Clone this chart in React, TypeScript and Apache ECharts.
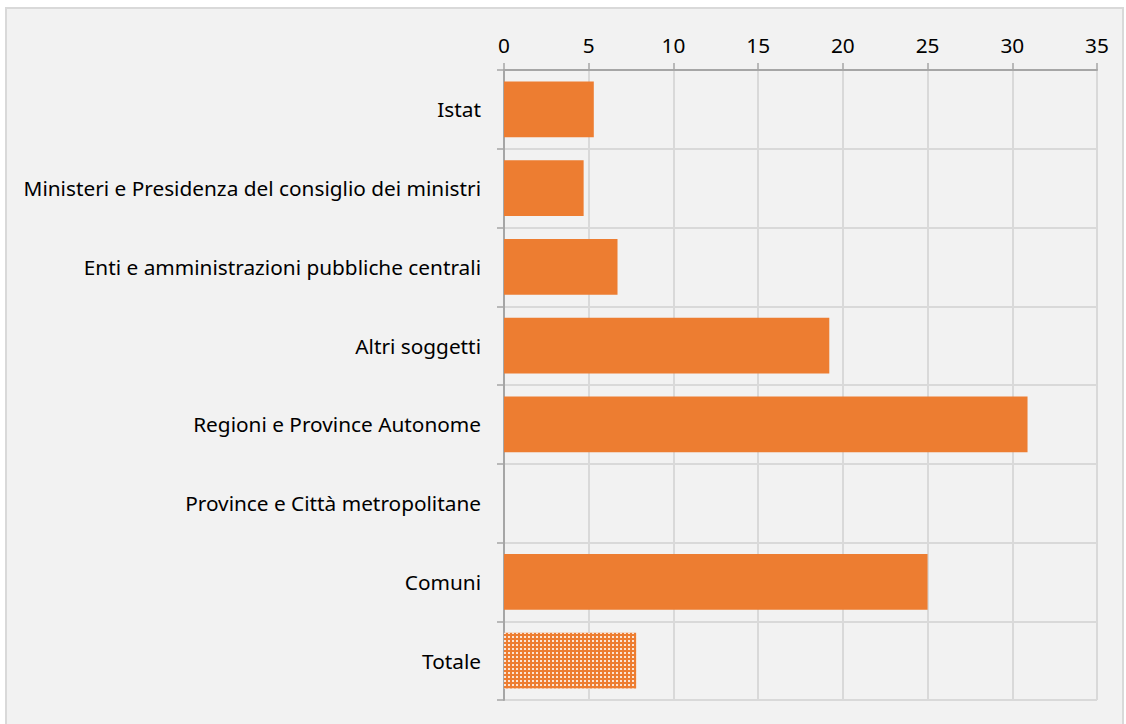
import React, { useEffect, useRef } from "react";
import * as echarts from "echarts";

const categories = [
  "Istat",
  "Ministeri e Presidenza del consiglio dei ministri",
  "Enti e amministrazioni pubbliche centrali",
  "Altri soggetti",
  "Regioni e Province Autonome",
  "Province e Città metropolitane",
  "Comuni",
  "Totale",
];
const values = [5.3, 4.7, 6.7, 19.2, 30.9, 0, 25.0, 7.8];
const xTicks = { min: 0, max: 35, interval: 5 };

export default function App() {
  const ref = useRef<HTMLDivElement>(null);
  useEffect(() => {
    if (!ref.current) return;
    const chart = echarts.init(ref.current, null, { renderer: "svg" });
    const orange = "#ED7D31";
    const font = "'Noto Sans', sans-serif";
    chart.setOption({
      animation: false,
      backgroundColor: "#ffffff",
      graphic: [
        {
          type: "rect",
          z: -10,
          silent: true,
          shape: { x: 6, y: 8, width: 1117, height: 740 },
          style: { fill: "#f2f2f2", stroke: "#d9d9d9", lineWidth: 2 },
        },
      ],
      grid: { left: 504, right: 29, top: 70, bottom: 24, containLabel: false },
      xAxis: {
        type: "value",
        position: "top",
        min: xTicks.min,
        max: xTicks.max,
        interval: xTicks.interval,
        axisLine: { show: true, lineStyle: { color: "#a6a6a6", width: 2 } },
        axisTick: { show: true, inside: false, length: 7, lineStyle: { color: "#a6a6a6", width: 1.5 } },
        axisLabel: { margin: 15, color: "#000000", fontSize: 20.8, fontFamily: font },
        splitLine: { show: true, lineStyle: { color: "#d9d9d9", width: 2 } },
      },
      yAxis: {
        type: "category",
        inverse: true,
        data: categories,
        axisLine: { show: true, lineStyle: { color: "#a6a6a6", width: 2 } },
        axisTick: { show: true, length: 7, lineStyle: { color: "#a6a6a6", width: 1.5 } },
        axisLabel: { margin: 23, color: "#000000", fontSize: 20.8, fontFamily: font },
        splitLine: { show: true, lineStyle: { color: "#d9d9d9", width: 2 } },
      },
      series: [
        {
          type: "bar",
          barCategoryGap: "29%",
          data: values.map((v, i) =>
            i === values.length - 1
              ? {
                  value: v,
                  itemStyle: {
                    color: orange,
                    decal: {
                      symbol: "rect",
                      symbolSize: 1,
                      dashArrayX: [2, 2],
                      dashArrayY: [2, 2],
                      color: "rgba(255,255,255,0.8)",
                      rotation: 0,
                    },
                  },
                }
              : { value: v }
          ),
          itemStyle: { color: orange },
        },
      ],
    });
    return () => chart.dispose();
  }, []);
  return (
    <div
      ref={ref}
      style={{ position: "absolute", left: 0, top: 0, width: 1126, height: 724 }}
    />
  );
}
